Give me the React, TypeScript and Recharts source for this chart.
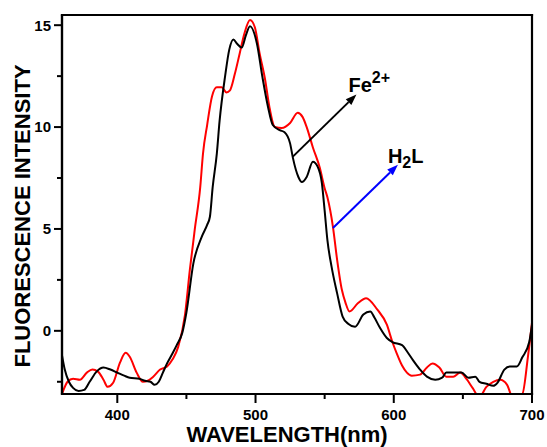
import { LineChart, Line, XAxis, YAxis, ReferenceLine, Label } from "recharts";

// complex (Fe2+) - black trace
const feNm = [
  360, 362, 365, 368, 372, 376, 380, 385, 390, 395, 400, 405, 409, 416, 420, 424, 427, 430, 433, 436,
  440, 443, 447, 450, 455, 461, 465, 467, 469, 472, 474, 478, 481, 484, 486.5, 490, 493, 496, 501, 505,
  509, 512.5, 517.5, 521, 525, 527, 531, 533.5, 537, 541.5, 545, 548, 550, 552, 555, 559, 563, 567, 572, 578,
  583, 586, 590, 595, 599, 606, 610, 614, 619, 624, 630, 635, 638, 644, 649, 654, 659, 662, 667, 672,
  675, 680, 684, 689, 693, 698, 700,
];
const feIntensity = [
  -1.2, -1.9, -2.5, -2.8, -2.95, -2.9, -2.5, -2.0, -1.8, -1.9, -2.05, -2.2, -2.3, -2.35, -2.45, -2.5, -2.65, -2.5, -2.05, -1.6,
  -1.1, -0.7, -0.1, 0.9, 3.3, 4.6, 5.2, 5.6, 7.05, 8.7, 10.3, 12.5, 13.8, 14.3, 14.1, 13.9, 14.5, 14.95, 14.1, 12.45,
  11.0, 10.1, 9.85, 9.75, 9.2, 8.5, 7.55, 7.3, 7.55, 8.3, 8.05, 7.25, 5.9, 4.45, 3.15, 1.85, 0.7, 0.35, 0.2, 0.8,
  0.95, 0.65, 0.15, -0.35, -0.55, -0.7, -1.05, -1.45, -1.9, -2.25, -2.4, -2.3, -2.05, -2.05, -2.05, -2.3, -2.25, -2.5, -2.6, -2.7,
  -2.55, -1.9, -1.75, -1.75, -1.3, -0.55, 0.3,
];

// free ligand (H2L) - red trace
const ligandNm = [
  360, 364, 368, 373, 378, 382, 386, 390, 393, 397, 402, 406, 409, 414, 418.5, 422, 426, 431, 436, 440,
  444, 449, 452.5, 456, 460, 462, 465, 468.5, 472, 475.5, 479, 481.5, 485, 488.5, 492, 496, 499.5, 503, 507, 510,
  514, 519, 525, 530.5, 534, 537, 541.5, 546.5, 550, 552, 556, 559, 562.5, 565, 568, 574, 580, 588, 595, 599,
  602, 606, 609.5, 613, 619, 624, 628, 633, 638, 643, 648, 653, 657, 662, 667, 672, 677, 682, 686, 693,
  697, 700,
];
const ligandIntensity = [
  -3.1, -2.5, -2.35, -2.4, -2.05, -1.9, -2.0, -2.4, -2.75, -2.55, -1.55, -1.08, -1.27, -2.05, -2.5, -2.45, -2.25, -1.9, -1.75, -1.4,
  -0.8, 0.8, 3.0, 4.95, 7.05, 8.7, 10.1, 11.5, 11.95, 11.95, 11.7, 11.8, 12.6, 13.6, 14.6, 15.25, 14.9, 13.6, 12.3, 11.0,
  10.0, 9.95, 10.2, 10.7, 10.5, 10.0, 9.0, 8.0, 7.0, 6.55, 5.1, 3.5, 2.0, 1.4, 0.95, 1.35, 1.6, 1.05, 0.3, -0.55,
  -1.08, -1.7, -2.05, -2.2, -2.15, -1.8, -1.6, -1.8, -2.25, -2.25, -2.05, -2.4, -2.8, -3.25, -2.75, -2.5, -2.4, -2.65, -3.25, -3.1,
  -1.3, 0.4,
];

const xMajor = [400, 500, 600, 700];
const xTicks = [400, 450, 500, 550, 600, 650, 700];
const yMajor = [0, 5, 10, 15];
const yTicks = [-2.5, 0, 2.5, 5, 7.5, 10, 12.5, 15];
const X_DOMAIN = [360, 700];
const Y_DOMAIN = [-3.1, 15.5];

const feData = feNm.map((x, i) => ({ x, y: feIntensity[i] }));
const ligandData = ligandNm.map((x, i) => ({ x, y: ligandIntensity[i] }));

const FONT = '"Liberation Sans", Arial, sans-serif';
const INK = "#000";

// tick + label; majors get a long tick and a number, minors a short tick only
const XTick = (props: any) => {
  const { x, y, payload } = props;
  const major = xMajor.includes(payload.value);
  const axisY = y - 15;
  return (
    <g>
      <line x1={x} x2={x} y1={axisY} y2={axisY + (major ? 9 : 5)} stroke={INK} strokeWidth={2} />
      {major && (
        <text x={x} y={y} dy="0.71em" textAnchor="middle" fontFamily={FONT} fontWeight={700} fontSize={15} fill="#000">
          {payload.value}
        </text>
      )}
    </g>
  );
};

const YTick = (props: any) => {
  const { x, y, payload } = props;
  const major = yMajor.includes(payload.value);
  const axisX = x + 11;
  return (
    <g>
      <line x1={axisX} x2={axisX - (major ? 8 : 5)} y1={y} y2={y} stroke={INK} strokeWidth={2} />
      {major && (
        <text x={x} y={y} dy="0.355em" textAnchor="end" fontFamily={FONT} fontWeight={700} fontSize={15} fill="#000">
          {payload.value}
        </text>
      )}
    </g>
  );
};

// plain frame edge drawn from the segment's scaled end points
const Edge = (props: any) => (
  <path
    d={`M${props.x1},${props.y1}L${props.x2},${props.y2}`}
    stroke={INK}
    strokeWidth={2.2}
    fill="none"
    strokeLinecap="square"
  />
);

const Arrow = (color: string, label: React.ReactNode, dx: number, dy: number) =>
  (props: any) => {
    const { x1, y1, x2, y2 } = props;
    const ang = Math.atan2(y2 - y1, x2 - x1);
    const len = 11;
    const w = 4;
    const bx = x2 - len * Math.cos(ang);
    const by = y2 - len * Math.sin(ang);
    const px = -Math.sin(ang) * w;
    const py = Math.cos(ang) * w;
    return (
      <g>
        <line x1={x1} y1={y1} x2={bx} y2={by} stroke={color} strokeWidth={2} />
        <polygon points={`${x2},${y2} ${bx + px},${by + py} ${bx - px},${by - py}`} fill={color} />
        <text x={x2 + dx} y={y2 + dy} fontFamily={FONT} fontWeight={700} fontSize={20} fill="#000">
          {label}
        </text>
      </g>
    );
  };

const [x0, x1] = X_DOMAIN;
const [y0, y1] = Y_DOMAIN;
const frame = [
  [{ x: x0, y: y0 }, { x: x1, y: y0 }],
  [{ x: x0, y: y1 }, { x: x1, y: y1 }],
  [{ x: x0, y: y0 }, { x: x0, y: y1 }],
  [{ x: x1, y: y0 }, { x: x1, y: y1 }],
];

export default function App() {
  return (
    <div style={{ position: "fixed", left: 0, top: 0, width: 547, height: 447, background: "#fff" }}>
      <LineChart width={547} height={447} margin={{ top: 15, right: 15, bottom: 0, left: 0 }}>
        <XAxis
          xAxisId="main"
          dataKey="x"
          type="number"
          domain={X_DOMAIN}
          allowDataOverflow
          ticks={xTicks}
          interval={0}
          tickSize={9}
          tickMargin={6}
          height={53}
          axisLine={{ stroke: INK, strokeWidth: 2.2 }}
          tickLine={{ stroke: "none" }}
          tick={<XTick />}
        >
          <Label
            content={(p: any) => {
              const vb = p.viewBox;
              return (
                <text
                  x={vb.x + vb.width / 2 - 10}
                  y={442}
                  textAnchor="middle"
                  fontFamily={FONT}
                  fontWeight={700}
                  fontSize={22}
                  fill="#000"
                >
                  WAVELENGTH(nm)
                </text>
              );
            }}
          />
        </XAxis>
        <YAxis
          yAxisId="main"
          type="number"
          domain={Y_DOMAIN}
          allowDataOverflow
          ticks={yTicks}
          interval={0}
          tickSize={8}
          tickMargin={3}
          width={62}
          axisLine={{ stroke: INK, strokeWidth: 2.2 }}
          tickLine={{ stroke: "none" }}
          tick={<YTick />}
        >
          <Label
            content={() => (
              <text
                x={30}
                y={216}
                transform="rotate(-90 30 216)"
                textAnchor="middle"
                fontFamily={FONT}
                fontWeight={700}
                fontSize={22}
                fill="#000"
              >
                FLUORESCENCE INTENSITY
              </text>
            )}
          />
        </YAxis>
        <Line
          xAxisId="main"
          yAxisId="main"
          data={ligandData}
          dataKey="y"
          type="monotone"
          stroke="#ff0000"
          strokeWidth={2}
          dot={false}
          isAnimationActive={false}
        />
        <Line
          xAxisId="main"
          yAxisId="main"
          data={feData}
          dataKey="y"
          type="monotone"
          stroke="#000"
          strokeWidth={2}
          dot={false}
          isAnimationActive={false}
        />
        {frame.map((seg, i) => (
          <ReferenceLine
            key={i}
            xAxisId="main"
            yAxisId="main"
            segment={seg}
            ifOverflow="visible"
            shape={Edge}
          />
        ))}
        <ReferenceLine
          xAxisId="main"
          yAxisId="main"
          segment={[{ x: 527, y: 8.55 }, { x: 573, y: 11.6 }]}
          shape={Arrow(
            "#000",
            <>
              <tspan>Fe</tspan>
              <tspan dy={-9} fontSize={16}>2+</tspan>
            </>,
            -8,
            -2
          )}
        />
        <ReferenceLine
          xAxisId="main"
          yAxisId="main"
          segment={[{ x: 556, y: 5.05 }, { x: 603, y: 8.15 }]}
          shape={Arrow(
            "#0000ff",
            <>
              <tspan>H</tspan>
              <tspan dy={5} fontSize={16}>2</tspan>
              <tspan dy={-5}>L</tspan>
            </>,
            -10,
            -2
          )}
        />
      </LineChart>
    </div>
  );
}
